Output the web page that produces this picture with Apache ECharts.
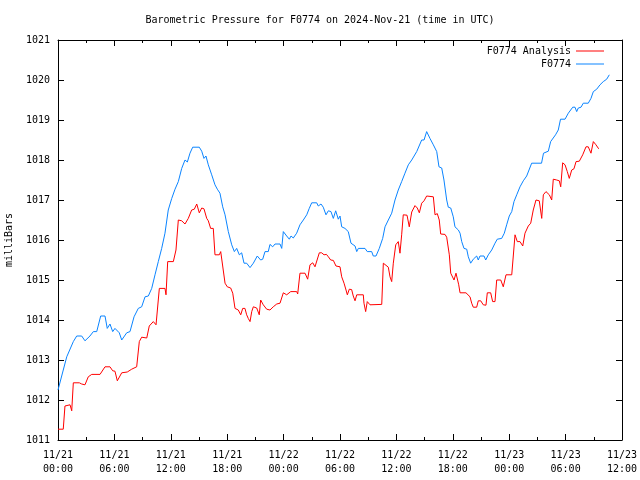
<!DOCTYPE html>
<html><head><meta charset="utf-8">
<script src="https://cdn.jsdelivr.net/npm/echarts@6/dist/echarts.min.js"></script>
<style>html,body{margin:0;padding:0;background:#fff}#c{width:640px;height:480px}</style>
</head><body><div id="c"></div>
<script>
const titleText = 'Barometric Pressure for F0774 on 2024-Nov-21 (time in UTC)';
const tickLabels = ['11/21\n00:00','11/21\n06:00','11/21\n12:00','11/21\n18:00','11/22\n00:00','11/22\n06:00','11/22\n12:00','11/22\n18:00','11/23\n00:00','11/23\n06:00','11/23\n12:00'];
const seriesNames = ['F0774 Analysis', 'F0774'];
// hours since 2024-11-21 00:00 UTC
const analysisHours = [0.0,0.56,0.74,1.28,1.46,1.63,2.27,2.52,2.87,3.22,3.59,4.47,5.0,5.53,5.82,6.06,6.31,6.52,6.78,7.37,7.84,8.37,8.65,8.9,9.44,9.71,10.14,10.43,10.56,10.78,11.38,11.49,11.67,12.27,12.55,12.8,13.16,13.51,13.86,14.22,14.5,14.76,15.03,15.29,15.53,15.82,15.99,16.24,16.52,16.7,17.16,17.31,17.52,17.77,18.01,18.37,18.59,18.83,19.18,19.44,19.65,19.89,20.07,20.24,20.43,20.61,20.78,21.14,21.41,21.56,21.84,22.2,22.55,22.9,23.27,23.62,23.97,24.33,24.5,24.76,25.39,25.5,25.74,26.28,26.56,26.81,27.1,27.34,27.55,27.8,28.05,28.3,28.56,28.76,29.01,29.29,29.57,30.0,30.18,30.43,30.64,30.78,30.99,31.24,31.41,31.6,31.78,32.48,32.55,32.73,32.9,33.19,34.44,34.61,34.79,35.14,35.32,35.5,35.67,35.93,36.2,36.38,36.56,36.73,37.13,37.37,37.63,37.98,38.22,38.44,38.69,38.94,39.22,39.93,40.11,40.35,40.56,40.71,41.17,41.35,41.63,41.78,41.99,42.13,42.34,42.48,42.63,42.77,43.4,43.59,43.83,44.01,44.18,44.54,44.71,44.97,45.24,45.53,45.67,46.03,46.24,46.49,46.67,47.1,47.37,47.66,48.27,48.44,48.62,48.86,49.15,49.44,49.68,50.03,50.29,50.56,50.85,51.2,51.46,51.63,51.91,52.27,52.52,52.69,53.05,53.33,53.48,53.69,53.94,54.18,54.39,54.65,54.89,55.11,55.46,55.82,56.17,56.41,56.7,56.95,57.23,57.52];
const analysisValues = [1011.27,1011.27,1011.85,1011.88,1011.73,1012.43,1012.43,1012.4,1012.38,1012.58,1012.64,1012.64,1012.83,1012.83,1012.73,1012.72,1012.48,1012.48,1012.68,1012.7,1012.77,1012.83,1013.46,1013.57,1013.55,1013.85,1013.96,1013.88,1013.9,1014.79,1014.79,1014.63,1015.46,1015.46,1015.75,1016.5,1016.48,1016.4,1016.54,1016.75,1016.77,1016.9,1016.68,1016.8,1016.78,1016.54,1016.48,1016.29,1016.29,1015.63,1015.63,1015.71,1015.68,1014.92,1014.83,1014.8,1014.67,1014.29,1014.25,1014.13,1014.29,1014.29,1014.13,1014.04,1013.96,1014.21,1014.33,1014.3,1014.13,1014.5,1014.38,1014.27,1014.25,1014.33,1014.4,1014.42,1014.68,1014.63,1014.6,1014.71,1014.71,1014.65,1015.17,1015.17,1015.02,1015.38,1015.43,1015.33,1015.35,1015.68,1015.68,1015.63,1015.64,1015.58,1015.5,1015.49,1015.35,1015.33,1015.08,1014.92,1014.75,1014.63,1014.77,1014.76,1014.6,1014.48,1014.63,1014.63,1014.42,1014.21,1014.46,1014.38,1014.39,1015.42,1015.42,1015.32,1015.08,1014.96,1015.42,1015.88,1015.96,1015.67,1016.13,1016.63,1016.62,1016.33,1016.7,1016.86,1016.8,1016.68,1016.92,1016.98,1017.1,1017.08,1016.63,1016.66,1016.5,1016.15,1016.14,1016.07,1015.63,1015.17,1015.16,1015.0,1015.17,1015.2,1014.88,1014.68,1014.68,1014.7,1014.58,1014.42,1014.32,1014.32,1014.48,1014.48,1014.38,1014.37,1014.68,1014.68,1014.46,1014.46,1015.0,1015.0,1014.83,1015.13,1015.13,1015.08,1016.13,1015.96,1015.96,1015.85,1016.17,1016.35,1016.42,1016.75,1017.0,1016.98,1016.54,1017.13,1017.21,1017.13,1017.0,1017.52,1017.5,1017.48,1017.33,1017.93,1017.88,1017.71,1017.54,1017.75,1017.78,1017.96,1017.97,1018.13,1018.33,1018.33,1018.17,1018.46,1018.38,1018.28];
const stationHours = [0.0,0.93,1.63,1.99,2.52,2.87,3.4,3.76,4.12,4.54,5.0,5.24,5.53,5.82,6.06,6.52,6.78,7.31,7.66,8.09,8.54,8.9,9.26,9.61,9.97,10.32,10.67,11.03,11.38,11.73,12.1,12.45,12.8,13.16,13.51,13.76,14.04,14.33,15.03,15.29,15.53,15.74,15.99,16.35,16.7,16.95,17.23,17.52,17.77,18.12,18.48,18.76,19.01,19.29,19.54,19.79,20.07,20.43,20.78,21.2,21.56,21.78,22.02,22.37,22.55,22.84,23.09,23.62,23.8,23.97,24.33,24.61,24.79,25.03,25.39,25.74,26.1,26.46,26.73,26.99,27.52,27.69,27.98,28.22,28.51,28.76,29.04,29.29,29.54,29.82,30.0,30.18,30.53,30.88,31.17,31.6,31.78,31.95,32.66,32.9,33.37,33.54,33.83,34.18,34.54,34.79,35.14,35.5,35.85,36.2,36.56,36.91,37.27,37.63,38.16,38.69,38.94,39.22,39.57,39.93,40.29,40.53,40.82,41.06,41.35,41.52,41.78,42.05,42.23,42.59,42.77,42.95,43.19,43.48,43.65,43.9,44.18,44.54,44.71,44.89,45.32,45.5,45.78,46.14,46.49,46.73,47.2,47.48,47.73,48.01,48.27,48.51,48.8,49.15,49.5,49.86,50.39,51.44,51.65,51.81,52.16,52.41,52.93,53.22,53.46,53.94,54.29,54.54,54.76,55.0,55.18,55.35,55.64,55.88,56.41,56.7,56.95,57.31,57.66,58.01,58.37,58.65];
const stationValues = [1012.25,1013.08,1013.46,1013.6,1013.6,1013.48,1013.6,1013.71,1013.71,1014.1,1014.1,1013.79,1013.9,1013.71,1013.79,1013.68,1013.5,1013.68,1013.71,1014.08,1014.29,1014.33,1014.58,1014.6,1014.79,1015.13,1015.46,1015.79,1016.17,1016.75,1017.04,1017.27,1017.46,1017.79,1018.0,1017.95,1018.17,1018.32,1018.32,1018.22,1018.04,1018.1,1017.88,1017.63,1017.38,1017.27,1017.17,1016.83,1016.63,1016.21,1015.88,1015.71,1015.79,1015.63,1015.68,1015.42,1015.42,1015.31,1015.42,1015.6,1015.5,1015.52,1015.71,1015.71,1015.89,1015.83,1015.9,1015.9,1015.79,1016.21,1016.1,1016.02,1016.1,1016.05,1016.17,1016.38,1016.5,1016.63,1016.79,1016.93,1016.93,1016.85,1016.9,1016.82,1016.63,1016.73,1016.71,1016.54,1016.73,1016.52,1016.6,1016.33,1016.29,1016.21,1015.92,1015.85,1015.71,1015.79,1015.79,1015.71,1015.71,1015.6,1015.6,1015.79,1016.04,1016.33,1016.5,1016.67,1017.0,1017.25,1017.46,1017.67,1017.88,1018.0,1018.21,1018.5,1018.5,1018.71,1018.54,1018.38,1018.21,1017.83,1017.8,1017.5,1017.0,1016.82,1016.8,1016.58,1016.33,1016.25,1016.17,1015.96,1015.79,1015.77,1015.58,1015.42,1015.52,1015.6,1015.5,1015.6,1015.6,1015.5,1015.63,1015.75,1015.92,1016.02,1016.04,1016.17,1016.38,1016.6,1016.71,1016.96,1017.13,1017.33,1017.48,1017.6,1017.92,1017.92,1018.17,1018.22,1018.22,1018.46,1018.63,1018.75,1019.02,1019.02,1019.17,1019.25,1019.32,1019.32,1019.21,1019.3,1019.32,1019.42,1019.42,1019.54,1019.71,1019.77,1019.88,1019.96,1020.02,1020.13];

const zip = (a, b) => a.map((v, i) => [v, b[i]]);
const FONT = 'DejaVu Sans Mono';
const txt = {color: '#000', fontFamily: FONT, fontSize: 10};
const chart = echarts.init(document.getElementById('c'), null, {renderer: 'canvas'});
const axX = (pos, show) => ({
  type: 'value', position: pos, min: 0, max: 60, interval: 6,
  axisLine: {show: true, onZero: false, lineStyle: {color: '#000', width: 1}},
  axisTick: {show: true, inside: true, length: 6, lineStyle: {color: '#000'}},
  minorTick: {show: true, splitNumber: 2, length: 3, lineStyle: {color: '#000'}},
  splitLine: {show: false},
  axisLabel: {show: show, ...txt, lineHeight: 14, margin: 8, formatter: v => tickLabels[Math.round(v / 6)]}
});
const axY = (pos, show) => ({
  type: 'value', position: pos, min: 1011, max: 1021, interval: 1,
  name: show ? 'milliBars' : '', nameLocation: 'middle', nameGap: 44, nameRotate: 90,
  nameTextStyle: {...txt},
  axisLine: {show: true, onZero: false, lineStyle: {color: '#000', width: 1}},
  axisTick: {show: true, inside: true, length: 6, lineStyle: {color: '#000'}},
  splitLine: {show: false},
  axisLabel: {show: show, ...txt, margin: 8, formatter: v => String(v)}
});
chart.setOption({
  animation: false,
  backgroundColor: '#fff',
  title: {text: titleText, left: 'center', top: 10, textStyle: {...txt, fontWeight: 'normal'}},
  grid: {left: 58, right: 18, top: 40, bottom: 40, containLabel: false, outerBoundsMode: 'none'},
  legend: {
    orient: 'vertical', right: 31, top: 40, align: 'right', itemGap: 1,
    itemWidth: 28, itemHeight: 1, icon: 'rect', textStyle: {...txt, lineHeight: 12},
    data: seriesNames
  },
  xAxis: [axX('bottom', true), axX('top', false)],
  yAxis: [axY('left', true), axY('right', false)],
  series: [
    {name: seriesNames[0], type: 'line', data: zip(analysisHours, analysisValues), showSymbol: false,
     color: '#ff0000', lineStyle: {color: '#ff0000', width: 1}, z: 3},
    {name: seriesNames[1], type: 'line', data: zip(stationHours, stationValues), showSymbol: false,
     color: '#0a84ff', lineStyle: {color: '#0a84ff', width: 1}, z: 2}
  ]
});
</script></body></html>
